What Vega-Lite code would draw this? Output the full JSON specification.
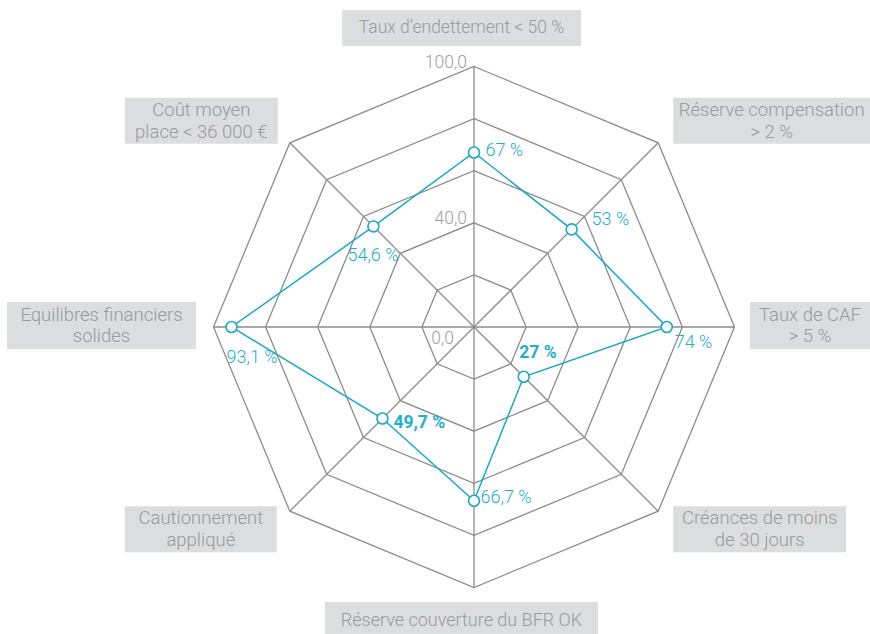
{
  "$schema": "https://vega.github.io/schema/vega-lite/v6.json",
  "width": 870,
  "height": 634,
  "autosize": "none",
  "padding": 0,
  "background": "#ffffff",
  "config": {"view": {"stroke": null}, "font": "Roboto"},
  "datasets": {
    "cats": [
      {"k": 0, "name": "Taux d’endettement < 50 %", "value": 67, "vlabel": "67 %"},
      {"k": 1, "name": "Réserve compensation\n> 2 %", "value": 53, "vlabel": "53 %"},
      {"k": 2, "name": "Taux de CAF\n> 5 %", "value": 74, "vlabel": "74 %"},
      {"k": 3, "name": "Créances de moins\nde 30 jours", "value": 27, "vlabel": "27 %"},
      {"k": 4, "name": "Réserve couverture du BFR OK", "value": 66.7, "vlabel": "66,7 %"},
      {"k": 5, "name": "Cautionnement\nappliqué", "value": 49.7, "vlabel": "49,7 %"},
      {"k": 6, "name": "Equilibres financiers\nsolides", "value": 93.1, "vlabel": "93,1 %"},
      {"k": 7, "name": "Coût moyen\nplace < 36 000 €", "value": 54.6, "vlabel": "54,6 %"}
    ],
    "rings": [
      {"ring": 20, "k": [0, 1, 2, 3, 4, 5, 6, 7]},
      {"ring": 40, "k": [0, 1, 2, 3, 4, 5, 6, 7]},
      {"ring": 60, "k": [0, 1, 2, 3, 4, 5, 6, 7]},
      {"ring": 80, "k": [0, 1, 2, 3, 4, 5, 6, 7]},
      {"ring": 100, "k": [0, 1, 2, 3, 4, 5, 6, 7]}
    ],
    "ticks": [
      {"v": 100, "t": "100,0"},
      {"v": 40, "t": "40,0"},
      {"v": 0, "t": "0,0"}
    ]
  },
  "layer": [
    {
      "data": {"name": "rings"},
      "transform": [
        {"flatten": ["k"]},
        {"calculate": "datum.k*PI/4", "as": "ang"},
        {"calculate": "datum.ring*sin(datum.ang)", "as": "gx"},
        {"calculate": "datum.ring*cos(datum.ang)", "as": "gy"}
      ],
      "mark": {"type": "line", "interpolate": "linear-closed", "color": "#8c8c8c", "strokeWidth": 1.3},
      "encoding": {
        "x": {"field": "gx", "type": "quantitative", "scale": {"domain": [-181.96, 152.02], "nice": false, "zero": false}, "axis": null},
        "y": {"field": "gy", "type": "quantitative", "scale": {"domain": [-117.85, 125.53], "nice": false, "zero": false}, "axis": null},
        "detail": {"field": "ring", "type": "nominal"},
        "order": {"field": "k", "type": "quantitative"}
      }
    },
    {
      "data": {"name": "cats"},
      "transform": [
        {"calculate": "datum.k*PI/4", "as": "ang"},
        {"calculate": "datum.value*sin(datum.ang)", "as": "px"},
        {"calculate": "datum.value*cos(datum.ang)", "as": "py"},
        {"calculate": "100*sin(datum.ang)", "as": "vx"},
        {"calculate": "100*cos(datum.ang)", "as": "vy"}
      ],
      "encoding": {
        "x": {"field": "px", "type": "quantitative", "scale": {"domain": [-181.96, 152.02], "nice": false, "zero": false}, "axis": null},
        "y": {"field": "py", "type": "quantitative", "scale": {"domain": [-117.85, 125.53], "nice": false, "zero": false}, "axis": null}
      },
      "layer": [
        {
          "mark": {"type": "rule", "color": "#8c8c8c", "strokeWidth": 1.3},
          "encoding": {
            "x": {"datum": 0, "type": "quantitative", "scale": {"domain": [-181.96, 152.02], "nice": false, "zero": false}, "axis": null},
            "y": {"datum": 0, "type": "quantitative", "scale": {"domain": [-117.85, 125.53], "nice": false, "zero": false}, "axis": null},
            "x2": {"field": "vx"},
            "y2": {"field": "vy"}
          }
        },
        {
          "mark": {"type": "line", "interpolate": "linear-closed", "color": "#17a9c6", "strokeWidth": 1.5},
          "encoding": {"order": {"field": "k", "type": "quantitative"}}
        },
        {
          "mark": {"type": "circle", "fill": "#ffffff", "stroke": "#17a9c6", "strokeWidth": 1.6, "size": 120, "opacity": 1}
        },
        {
          "transform": [{"filter": "datum.k==0"}],
          "mark": {"type": "text", "align": "left", "baseline": "middle", "dx": 11.5, "dy": -1, "fontSize": 18, "font": "Roboto", "fontWeight": 300, "color": "#1eafcc"},
          "encoding": {"text": {"field": "vlabel"}}
        },
        {
          "transform": [{"filter": "datum.k==1"}],
          "mark": {"type": "text", "align": "left", "baseline": "middle", "dx": 20, "dy": -9, "fontSize": 18, "font": "Roboto", "fontWeight": 300, "color": "#1eafcc"},
          "encoding": {"text": {"field": "vlabel"}}
        },
        {
          "transform": [{"filter": "datum.k==2"}],
          "mark": {"type": "text", "align": "left", "baseline": "middle", "dx": 8, "dy": 16, "fontSize": 18, "font": "Roboto", "fontWeight": 300, "color": "#1eafcc"},
          "encoding": {"text": {"field": "vlabel"}}
        },
        {
          "transform": [{"filter": "datum.k==3"}],
          "mark": {"type": "text", "align": "left", "baseline": "middle", "dx": -4.5, "dy": -23.5, "fontSize": 17.5, "font": "Roboto", "fontWeight": "bold", "color": "#1eafcc"},
          "encoding": {"text": {"field": "vlabel"}}
        },
        {
          "transform": [{"filter": "datum.k==4"}],
          "mark": {"type": "text", "align": "left", "baseline": "middle", "dx": 6.5, "dy": -3, "fontSize": 18, "font": "Roboto", "fontWeight": 300, "color": "#1eafcc"},
          "encoding": {"text": {"field": "vlabel"}}
        },
        {
          "transform": [{"filter": "datum.k==5"}],
          "mark": {"type": "text", "align": "left", "baseline": "middle", "dx": 11, "dy": 4.5, "fontSize": 17.5, "font": "Roboto", "fontWeight": "bold", "color": "#1eafcc"},
          "encoding": {"text": {"field": "vlabel"}}
        },
        {
          "transform": [{"filter": "datum.k==6"}],
          "mark": {"type": "text", "align": "left", "baseline": "middle", "dx": -5, "dy": 31, "fontSize": 18, "font": "Roboto", "fontWeight": 300, "color": "#1eafcc"},
          "encoding": {"text": {"field": "vlabel"}}
        },
        {
          "transform": [{"filter": "datum.k==7"}],
          "mark": {"type": "text", "align": "left", "baseline": "middle", "dx": -26, "dy": 30, "fontSize": 18, "font": "Roboto", "fontWeight": 300, "color": "#1eafcc"},
          "encoding": {"text": {"field": "vlabel"}}
        }
      ]
    },
    {
      "data": {"name": "cats"},
      "transform": [
        {"calculate": "datum.k*PI/4", "as": "ang"},
        {"calculate": "100*sin(datum.ang)", "as": "vx"},
        {"calculate": "100*cos(datum.ang)", "as": "vy"}
      ],
      "encoding": {
        "x": {"field": "vx", "type": "quantitative", "scale": {"domain": [-181.96, 152.02], "nice": false, "zero": false}, "axis": null},
        "y": {"field": "vy", "type": "quantitative", "scale": {"domain": [-117.85, 125.53], "nice": false, "zero": false}, "axis": null}
      },
      "layer": [
        {"transform": [{"filter": "datum.k==0"}], "mark": {"type": "rect", "color": "#dcdddf", "xOffset": -132, "x2Offset": 107, "yOffset": -56.5, "y2Offset": -20.5}, "encoding": {"x2": {"field": "vx"}, "y2": {"field": "vy"}}},
        {"transform": [{"filter": "datum.k==1"}], "mark": {"type": "rect", "color": "#dcdddf", "xOffset": 15, "x2Offset": 212, "yOffset": -45, "y2Offset": 1}, "encoding": {"x2": {"field": "vx"}, "y2": {"field": "vy"}}},
        {"transform": [{"filter": "datum.k==2"}], "mark": {"type": "rect", "color": "#dcdddf", "xOffset": 15.5, "x2Offset": 136, "yOffset": -25, "y2Offset": 22}, "encoding": {"x2": {"field": "vx"}, "y2": {"field": "vy"}}},
        {"transform": [{"filter": "datum.k==3"}], "mark": {"type": "rect", "color": "#dcdddf", "xOffset": 15, "x2Offset": 188, "yOffset": -5, "y2Offset": 41}, "encoding": {"x2": {"field": "vx"}, "y2": {"field": "vy"}}},
        {"transform": [{"filter": "datum.k==4"}], "mark": {"type": "rect", "color": "#dcdddf", "xOffset": -149, "x2Offset": 124, "yOffset": 14.5, "y2Offset": 50.5}, "encoding": {"x2": {"field": "vx"}, "y2": {"field": "vy"}}},
        {"transform": [{"filter": "datum.k==5"}], "mark": {"type": "rect", "color": "#dcdddf", "xOffset": -165, "x2Offset": -13, "yOffset": -5, "y2Offset": 41}, "encoding": {"x2": {"field": "vx"}, "y2": {"field": "vy"}}},
        {"transform": [{"filter": "datum.k==6"}], "mark": {"type": "rect", "color": "#dcdddf", "xOffset": -206.5, "x2Offset": -17.5, "yOffset": -25, "y2Offset": 22}, "encoding": {"x2": {"field": "vx"}, "y2": {"field": "vy"}}},
        {"transform": [{"filter": "datum.k==7"}], "mark": {"type": "rect", "color": "#dcdddf", "xOffset": -165, "x2Offset": -12, "yOffset": -45, "y2Offset": 1}, "encoding": {"x2": {"field": "vx"}, "y2": {"field": "vy"}}},
        {"transform": [{"filter": "datum.k==0"}], "mark": {"type": "text", "align": "center", "baseline": "middle", "lineBreak": "\n", "lineHeight": 21.5, "xOffset": -12.5, "yOffset": -38.5, "fontSize": 17.5, "font": "Roboto", "fontWeight": 300, "color": "#9a9a9a"}, "encoding": {"text": {"field": "name"}}},
        {"transform": [{"filter": "datum.k==1"}], "mark": {"type": "text", "align": "center", "baseline": "middle", "lineBreak": "\n", "lineHeight": 21.5, "xOffset": 113.5, "yOffset": -32.75, "fontSize": 18.5, "font": "Roboto", "fontWeight": 300, "color": "#9a9a9a"}, "encoding": {"text": {"field": "name"}}},
        {"transform": [{"filter": "datum.k==2"}], "mark": {"type": "text", "align": "center", "baseline": "middle", "lineBreak": "\n", "lineHeight": 21.5, "xOffset": 75.5, "yOffset": -12.25, "fontSize": 18.5, "font": "Roboto", "fontWeight": 300, "color": "#9a9a9a"}, "encoding": {"text": {"field": "name"}}},
        {"transform": [{"filter": "datum.k==3"}], "mark": {"type": "text", "align": "center", "baseline": "middle", "lineBreak": "\n", "lineHeight": 21.5, "xOffset": 101.5, "yOffset": 7.25, "fontSize": 18.5, "font": "Roboto", "fontWeight": 300, "color": "#9a9a9a"}, "encoding": {"text": {"field": "name"}}},
        {"transform": [{"filter": "datum.k==4"}], "mark": {"type": "text", "align": "center", "baseline": "middle", "lineBreak": "\n", "lineHeight": 21.5, "xOffset": -12.5, "yOffset": 33, "fontSize": 18, "font": "Roboto", "fontWeight": 300, "color": "#9a9a9a"}, "encoding": {"text": {"field": "name"}}},
        {"transform": [{"filter": "datum.k==5"}], "mark": {"type": "text", "align": "center", "baseline": "middle", "lineBreak": "\n", "lineHeight": 21.5, "xOffset": -89, "yOffset": 7.25, "fontSize": 18.5, "font": "Roboto", "fontWeight": 300, "color": "#9a9a9a"}, "encoding": {"text": {"field": "name"}}},
        {"transform": [{"filter": "datum.k==6"}], "mark": {"type": "text", "align": "center", "baseline": "middle", "lineBreak": "\n", "lineHeight": 21.5, "xOffset": -112, "yOffset": -12.25, "fontSize": 18.5, "font": "Roboto", "fontWeight": 300, "color": "#9a9a9a"}, "encoding": {"text": {"field": "name"}}},
        {"transform": [{"filter": "datum.k==7"}], "mark": {"type": "text", "align": "center", "baseline": "middle", "lineBreak": "\n", "lineHeight": 21.5, "xOffset": -88.5, "yOffset": -32.75, "fontSize": 18.5, "font": "Roboto", "fontWeight": 300, "color": "#9a9a9a"}, "encoding": {"text": {"field": "name"}}}
      ]
    },
    {
      "data": {"name": "ticks"},
      "encoding": {
        "x": {"datum": 0, "type": "quantitative", "scale": {"domain": [-181.96, 152.02], "nice": false, "zero": false}, "axis": null},
        "y": {"field": "v", "type": "quantitative", "scale": {"domain": [-117.85, 125.53], "nice": false, "zero": false}, "axis": null},
        "text": {"field": "t"}
      },
      "layer": [
        {
          "transform": [{"filter": "datum.v > 0"}],
          "mark": {"type": "text", "align": "right", "baseline": "alphabetic", "dx": -7, "dy": 1, "fontSize": 17.5, "font": "Roboto", "fontWeight": 300, "color": "#a0a0a0"}
        },
        {
          "transform": [{"filter": "datum.v == 0"}],
          "mark": {"type": "text", "align": "right", "baseline": "alphabetic", "dx": -20, "dy": 17, "fontSize": 17.5, "font": "Roboto", "fontWeight": 300, "color": "#a0a0a0"}
        }
      ]
    }
  ]
}
